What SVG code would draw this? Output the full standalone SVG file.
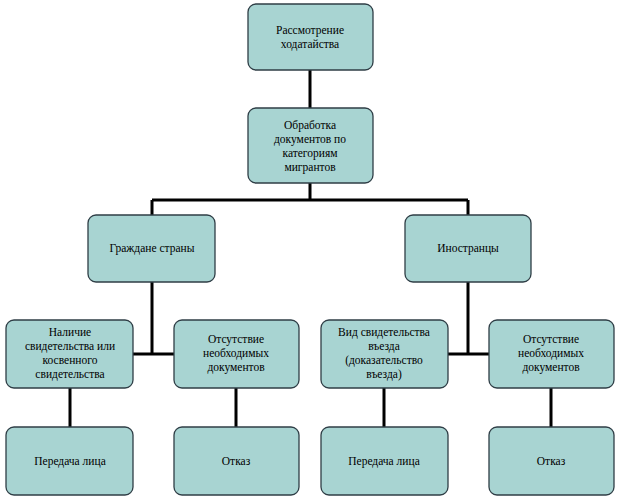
<svg xmlns="http://www.w3.org/2000/svg" width="621" height="500" viewBox="0 0 621 500">
<style>
.b{fill:#a8d4d2;stroke:#2f3e46;stroke-width:1.3}
.t{font-family:"Liberation Serif",serif;font-size:11.5px;fill:#000;text-anchor:middle}
.c{stroke:#000;stroke-width:3;fill:none}
</style>
<rect width="621" height="500" fill="#fff"/>
<g id="connectors">
<path class="c" d="M310 70V108M310 183V200M152 200H468M152 200V215M468 200V215M152 282V354M133 354H174M468 282V354M448 354H489M70 388V427M236 388V427M384 388V427M551 388V427"/>
</g>
<g id="n1"><rect class="b" x="248" y="4" width="125" height="66" rx="8"/><text class="t" x="310" y="34">Рассмотрение</text><text class="t" x="310" y="48">ходатайства</text></g>
<g id="n2"><rect class="b" x="248" y="108" width="125" height="75" rx="8"/><text class="t" x="310" y="129">Обработка</text><text class="t" x="310" y="143">документов по</text><text class="t" x="310" y="157">категориям</text><text class="t" x="310" y="171">мигрантов</text></g>
<g id="n3"><rect class="b" x="88" y="215" width="127" height="67" rx="8"/><text class="t" x="152" y="252">Граждане страны</text></g>
<g id="n4"><rect class="b" x="405" y="215" width="126" height="67" rx="8"/><text class="t" x="468" y="252">Иностранцы</text></g>
<g id="n5"><rect class="b" x="6" y="320" width="127" height="68" rx="8"/><text class="t" x="70" y="336">Наличие</text><text class="t" x="70" y="350">свидетельства или</text><text class="t" x="70" y="364">косвенного</text><text class="t" x="70" y="378">свидетельства</text></g>
<g id="n6"><rect class="b" x="174" y="320" width="125" height="68" rx="8"/><text class="t" x="236" y="343">Отсутствие</text><text class="t" x="236" y="357">необходимых</text><text class="t" x="236" y="371">документов</text></g>
<g id="n7"><rect class="b" x="321" y="320" width="127" height="68" rx="8"/><text class="t" x="384" y="336">Вид свидетельства</text><text class="t" x="384" y="350">въезда</text><text class="t" x="384" y="364">(доказательство</text><text class="t" x="384" y="378">въезда)</text></g>
<g id="n8"><rect class="b" x="489" y="320" width="125" height="68" rx="8"/><text class="t" x="551" y="343">Отсутствие</text><text class="t" x="551" y="357">необходимых</text><text class="t" x="551" y="371">документов</text></g>
<g id="n9"><rect class="b" x="6" y="427" width="127" height="68" rx="8"/><text class="t" x="70" y="465">Передача лица</text></g>
<g id="n10"><rect class="b" x="174" y="427" width="125" height="68" rx="8"/><text class="t" x="236" y="465">Отказ</text></g>
<g id="n11"><rect class="b" x="321" y="427" width="127" height="68" rx="8"/><text class="t" x="384" y="465">Передача лица</text></g>
<g id="n12"><rect class="b" x="489" y="427" width="125" height="68" rx="8"/><text class="t" x="551" y="465">Отказ</text></g>
</svg>
